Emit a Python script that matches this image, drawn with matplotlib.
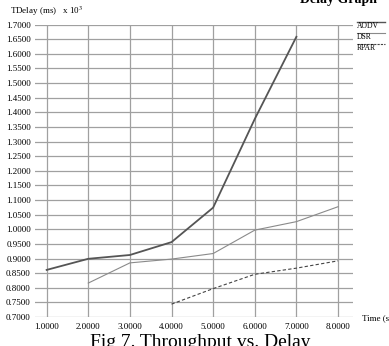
import numpy as np
import matplotlib.pyplot as plt
from matplotlib.lines import Line2D

plt.rcParams['font.family'] = 'Liberation Serif'
plt.rcParams['mathtext.fontset'] = 'stix'

# values (delay in ms x 10^3)
t_aodv = [1, 2, 3, 4, 5, 6, 7]
aodv = [0.861, 0.899, 0.912, 0.956, 1.074, 1.377, 1.658]
t_dsr = [2, 3, 4, 5, 6, 7, 8]
dsr = [0.816, 0.885, 0.898, 0.917, 0.997, 1.026, 1.077]
t_rpar = [4, 5, 6, 7, 8]
rpar = [0.744, 0.797, 0.846, 0.867, 0.892]

xticks = [1, 2, 3, 4, 5, 6, 7, 8]
yticks = np.arange(0.70, 1.7001, 0.05)

W, H = 389, 346
fig = plt.figure(figsize=(W / 100, H / 100), dpi=100)
ax = fig.add_axes([35 / W, (H - 317) / H, (353 - 35) / W, (317 - 24.5) / H])

ax.plot(t_aodv, aodv, color='#555555', lw=1.3)
ax.plot(t_dsr, dsr, color='#8a8a8a', lw=0.8)
ax.plot(t_rpar, rpar, color='#444444', lw=0.8, ls=(0, (3, 2)))

ax.set_xlim(0.72, 8.36)
ax.set_ylim(0.7, 1.7)
ax.set_xticks(xticks)
ax.set_yticks(yticks)
ax.set_xticklabels(['%.4f' % v for v in xticks], fontsize=6.5)
ax.set_yticklabels(['%.4f' % v for v in yticks], fontsize=6.5)
ax.tick_params(length=0, pad=3)
ax.tick_params(axis='x', pad=4)
ax.grid(True, color='#a0a0a0', lw=0.9)
for s in ax.spines.values():
    s.set_visible(False)

fig.text(10 / W, 1 - 11 / H, 'TDelay (ms)   x 10$^3$', fontsize=6.5, va='center')
fig.text(362 / W, 1 - 318 / H, 'Time (s)', fontsize=6.5, va='center')
fig.text(300 / W, 1 - 3.5 / H, 'Delay Graph', fontsize=10, fontweight='bold')
fig.text(200 / W, 1 - 347 / H, 'Fig 7. Throughput vs. Delay', fontsize=14,
         ha='center', va='baseline')

# xgraph-style legend: a line sample above each name
names = ['AODV', 'DSR', 'RPAR']
styles = [dict(color='#555555', lw=1.0),
          dict(color='#8a8a8a', lw=0.8),
          dict(color='#444444', lw=0.8, ls=(0, (2, 1)))]
for i, (nm, st) in enumerate(zip(names, styles)):
    yy = 26 + i * 11
    fig.text(357 / W, 1 - yy / H, nm, fontsize=5.5, va='center')
    fig.add_artist(Line2D([357 / W, 385 / W], [1 - (yy - 4.5) / H] * 2, **st))

fig.savefig('out.png', dpi=100)
